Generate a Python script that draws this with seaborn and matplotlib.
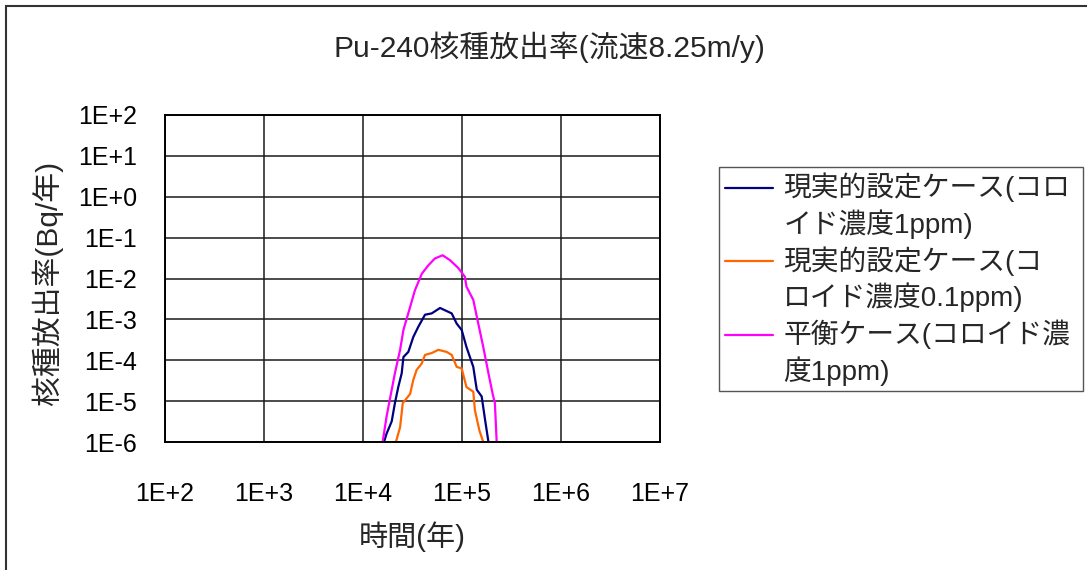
import numpy as np
import pandas as pd
import matplotlib
matplotlib.use("Agg")
import matplotlib.pyplot as plt
from matplotlib.patches import Rectangle
from matplotlib.legend_handler import HandlerLine2D
import seaborn as sns

# ---------------- data ----------------
title = "Pu-240核種放出率(流速8.25m/y)"
xlabel = "時間(年)"
ylabel = "核種放出率(Bq/年)"

series_names = [
    "現実的設定ケース(コロ\nイド濃度1ppm)",
    "現実的設定ケース(コ\nロイド濃度0.1ppm)",
    "平衡ケース(コロイド濃\n度1ppm)",
]
series_colors = ["#000080", "#FF6600", "#FF00FF"]

t_real_1ppm = [16300, 17300, 19500, 21000, 22700, 24600, 25600, 28700, 32200, 36200,
               42300, 49400, 60000, 78700, 88300, 99300, 111000, 130000, 141000,
               158000, 171000, 185000]
v_real_1ppm = [1.0e-6, 1.6e-6, 3.2e-6, 8.9e-6, 2.2e-5, 4.8e-5, 1.2e-4, 1.6e-4, 3.7e-4, 6.6e-4,
               1.3e-3, 1.4e-3, 1.9e-3, 1.4e-3, 7.9e-4, 5.5e-4, 2.1e-4, 6.9e-5, 1.9e-5,
               1.3e-5, 3.5e-6, 1.0e-6]

t_real_01ppm = [21500, 23700, 25200, 29900, 32200, 34800, 39200, 42300, 49400, 57700,
                70000, 78700, 88300, 99300, 111000, 130000, 135000, 150000, 164000]
v_real_01ppm = [1.0e-6, 2.3e-6, 8.9e-6, 1.5e-5, 3.3e-5, 5.8e-5, 8.3e-5, 1.35e-4, 1.5e-4, 1.8e-4,
                1.6e-4, 1.35e-4, 6.9e-5, 6.3e-5, 2.2e-5, 1.7e-5, 6.0e-6, 1.9e-6, 1.0e-6]

t_equil = [15800, 17300, 19500, 21000, 23700, 25600, 29900, 33500, 39200, 45700, 53300,
           63800, 75700, 91800, 107000, 111000, 130000, 146000, 164000, 185000, 204000,
           215000, 224000]
v_equil = [1.0e-6, 4.2e-6, 1.9e-5, 4.8e-5, 1.8e-4, 5.5e-4, 2.0e-3, 5.2e-3, 1.3e-2, 2.1e-2, 3.1e-2,
           3.7e-2, 2.8e-2, 1.8e-2, 1.1e-2, 6.3e-3, 3.0e-3, 7.9e-4, 2.1e-4, 4.8e-5, 1.5e-5,
           8.9e-6, 1.0e-6]

xticks = [1e2, 1e3, 1e4, 1e5, 1e6, 1e7]
xticklabels = ["1E+2", "1E+3", "1E+4", "1E+5", "1E+6", "1E+7"]
yticks = [1e-6, 1e-5, 1e-4, 1e-3, 1e-2, 1e-1, 1e0, 1e1, 1e2]
yticklabels = ["1E-6", "1E-5", "1E-4", "1E-3", "1E-2", "1E-1", "1E+0", "1E+1", "1E+2"]

# ---------------- style ----------------
sns.set_style("white")
plt.rcParams["font.family"] = ["Liberation Sans", "Noto Sans CJK JP"]

df = pd.concat([
    pd.DataFrame({"t": t_real_1ppm, "v": v_real_1ppm, "case": series_names[0]}),
    pd.DataFrame({"t": t_real_01ppm, "v": v_real_01ppm, "case": series_names[1]}),
    pd.DataFrame({"t": t_equil, "v": v_equil, "case": series_names[2]}),
], ignore_index=True)

W, H = 1087, 570
fig = plt.figure(figsize=(W / 100, H / 100), dpi=100)
ax = fig.add_axes([165 / W, 1 - 442 / H, (660 - 165) / W, (442 - 115) / H])

sns.lineplot(data=df, x="t", y="v", hue="case", hue_order=series_names,
             palette=dict(zip(series_names, series_colors)), sort=False,
             estimator=None, linewidth=1.6, legend=False, ax=ax)

ax.set_xscale("log")
ax.set_yscale("log")
ax.set_xlim(1e2, 1e7)
ax.set_ylim(1e-6, 1e2)
ax.set_xticks(xticks)
ax.set_xticklabels(xticklabels)
ax.set_yticks(yticks)
ax.set_yticklabels(yticklabels)
ax.minorticks_off()
ax.tick_params(axis="both", length=0, labelsize=18, colors="black")
ax.tick_params(axis="x", pad=29)
ax.tick_params(axis="y", pad=20)
ax.grid(True, which="major", color="#1a1a1a", linewidth=1.1)
for s in ax.spines.values():
    s.set_visible(True)
    s.set_color("black")
    s.set_linewidth(1.4)

ax.set_xlabel(xlabel, fontsize=21)
ax.set_ylabel(ylabel, fontsize=21.5)
ax.xaxis.set_label_coords(0.5, (442 - 537) / 327)
ax.xaxis.label.set_va("center")
ax.yaxis.set_label_coords((47 - 165) / 495, (442 - 283) / 327)
ax.yaxis.label.set_va("center")
ax.yaxis.label.set_ha("center")

fig.text(549 / W, 1 - 47 / H, title, ha="center", va="center", fontsize=21.5)

# legend: handle aligned to the first text line of each entry
leg_fs = 20
line_dist_px = 36.6


class FirstLineHandler(HandlerLine2D):
    def __init__(self, shift, **kw):
        super().__init__(**kw)
        self.shift = shift

    def create_artists(self, legend, orig_handle, xdescent, ydescent, width,
                       height, fontsize, trans):
        arts = super().create_artists(legend, orig_handle, xdescent, ydescent,
                                      width, height, fontsize, trans)
        for a in arts:
            a.set_ydata(np.asarray(a.get_ydata()) + self.shift)
        return arts


handles = ax.get_lines()[:3]
shift_pt = 0.5 * line_dist_px * 72 / 100
leg = fig.legend(handles, series_names, loc="upper left",
                 bbox_to_anchor=(719 / W, 1 - 388 / H, (1083 - 719) / W, (388 - 167) / H),
                 bbox_transform=fig.transFigure, mode="expand", borderaxespad=0,
                 fontsize=leg_fs, frameon=True, fancybox=False, framealpha=1,
                 edgecolor="#555555", handlelength=1.75, handletextpad=0.36,
                 borderpad=0.2, labelspacing=0.26,
                 handler_map={h: FirstLineHandler(shift_pt) for h in handles})
leg.get_frame().set_linewidth(1.0)
for t in leg.get_texts():
    t.set_linespacing(1.30)

# outer chart border
fig.patches.append(Rectangle((6 / W, -0.05), 1.2, 1 - 6 / H + 0.05,
                             transform=fig.transFigure, fill=False,
                             edgecolor="#333333", linewidth=1.5))

fig.savefig("out.png", dpi=100)
